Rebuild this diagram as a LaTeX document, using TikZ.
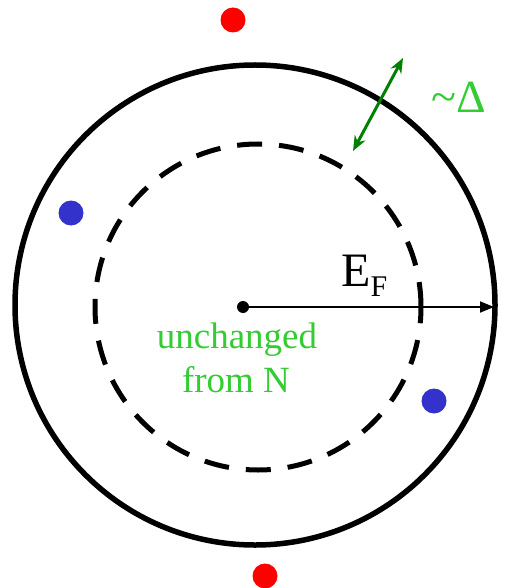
\documentclass[tikz,border=0pt]{standalone}
\usepackage{fontspec}
\setmainfont{Liberation Serif}
\usetikzlibrary{arrows.meta}
\definecolor{textgreen}{RGB}{51,204,51}
\definecolor{arrowgreen}{RGB}{0,128,0}
\definecolor{dotblue}{RGB}{51,51,204}
\definecolor{dotred}{RGB}{255,0,0}
\tikzset{
  dot/.style={circle, inner sep=0pt, minimum size=25pt},
}

\begin{document}
\begin{tikzpicture}[x=1pt, y=-1pt]
  \useasboundingbox (0,0) rectangle (504,588);
  \coordinate (C) at (255, 305);   % centre of the Fermi circle
  \coordinate (D) at (258, 307);   % centre of the dashed circle
  \coordinate (F) at (494, 307);   % end of the radius arrow
  \coordinate (P) at (403, 58);
  \coordinate (Q) at (353, 151);

  \draw[line width=5.5pt] (C) circle (240pt);
  \draw[line width=5pt, dash pattern=on 25pt off 17pt] (D) circle (163pt);

  \node[dot, fill=black, minimum size=12pt] (O) at (243, 307) {};
  \draw[line width=1.8pt, -{Triangle[length=14pt, width=11pt]}] (O.center) -- (F);

  \draw[arrowgreen, line width=3pt,
        {Stealth[length=15pt, width=12pt]}-{Stealth[length=15pt, width=12pt]}] (Q) -- (P);

  \node[dot, fill=dotred]  (R1) at (233, 20) {};
  \node[dot, fill=dotred]  (R2) at (265, 576) {};
  \node[dot, fill=dotblue] (B1) at (71, 213) {};
  \node[dot, fill=dotblue] (B2) at (434, 401) {};

  \node[anchor=base west, inner sep=0pt] (EF) at (341, 286)
    {\fontsize{48}{48}\selectfont E\raisebox{-10pt}{\fontsize{30}{30}\selectfont F}};
  \node[anchor=base west, inner sep=0pt, textgreen] (gap) at (431, 113)
    {\fontsize{46}{46}\selectfont \textasciitilde Δ};
  \node[anchor=base, inner sep=0pt, textgreen] (unch) at (237, 348)
    {\fontsize{37}{44}\selectfont unchanged};
  \node[anchor=base, inner sep=0pt, textgreen] (from) at (236, 392)
    {\fontsize{37}{44}\selectfont from N};
\end{tikzpicture}
\end{document}
